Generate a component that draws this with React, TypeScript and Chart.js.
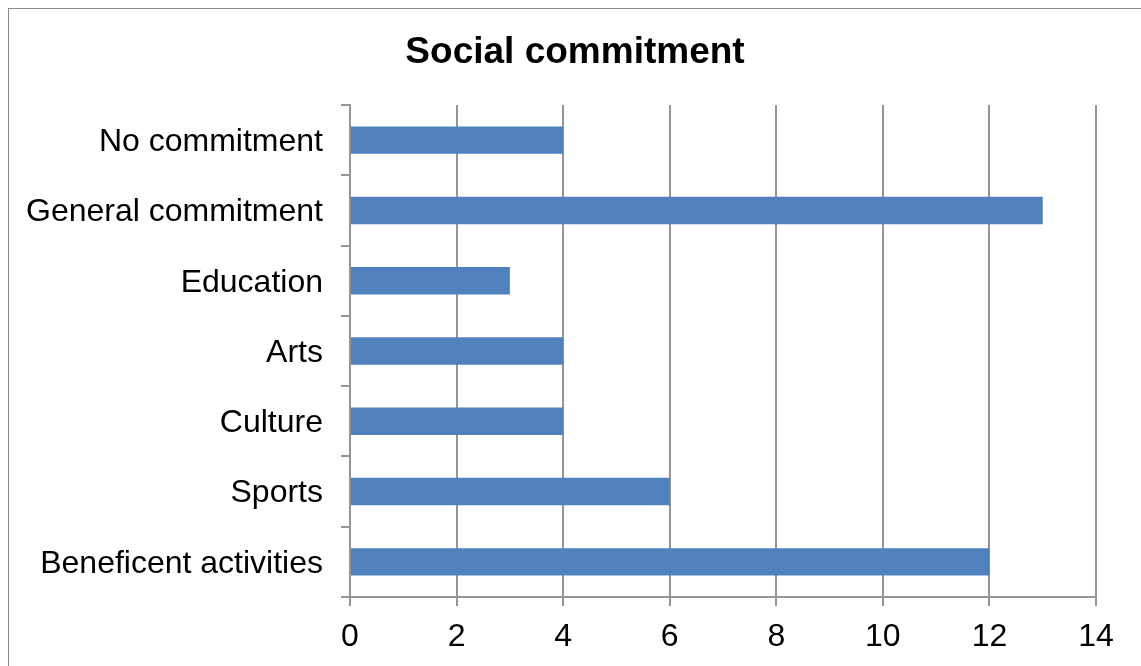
import React, { useEffect, useRef } from "react";
import { Chart, registerables } from "chart.js";

Chart.register(...registerables);

const categories: string[] = [
  "No commitment",
  "General commitment",
  "Education",
  "Arts",
  "Culture",
  "Sports",
  "Beneficent activities",
];

const counts: number[] = [4, 13, 3, 4, 4, 6, 12];

const xMin = 0;
const xMax = 14;
const xStep = 2;

const FONT = "'Liberation Sans', Arial, Helvetica, sans-serif";
const AXIS_GRAY = "#959595";
const BAR_BLUE = "#4F81BD";

// Center the title across the whole canvas rather than the padded layout box.
const fullWidthTitle = {
  id: "fullWidthTitle",
  afterLayout(chart: any) {
    const block = chart.titleBlock;
    if (block) {
      block.left = 0;
      block.right = chart.width;
      block.width = chart.width;
    }
  },
};

export default function App() {
  const canvasRef = useRef<HTMLCanvasElement | null>(null);

  useEffect(() => {
    const canvas = canvasRef.current;
    if (!canvas) return;

    const chart = new Chart(canvas, {
      type: "bar",
      data: {
        labels: categories,
        datasets: [
          {
            label: "Social commitment",
            data: counts,
            backgroundColor: BAR_BLUE,
            borderWidth: 0,
            barPercentage: 0.39,
            categoryPercentage: 1.0,
          },
        ],
      },
      plugins: [fullWidthTitle],
      options: {
        indexAxis: "y",
        responsive: false,
        animation: false,
        devicePixelRatio: 1,
        layout: { padding: { top: 0, right: 45, bottom: 0, left: 0 } },
        plugins: {
          legend: { display: false },
          tooltip: { enabled: false },
          title: {
            display: true,
            text: "Social commitment",
            color: "#000",
            font: { family: FONT, size: 37, weight: "bold" },
            padding: { top: 22, bottom: 29.6 },
          },
        },
        scales: {
          x: {
            type: "linear",
            min: xMin,
            max: xMax,
            ticks: {
              stepSize: xStep,
              color: "#000",
              font: { family: FONT, size: 32 },
              padding: 12,
            },
            grid: {
              color: AXIS_GRAY,
              lineWidth: 2,
              drawTicks: true,
              tickLength: 9,
            },
            border: { display: true, color: AXIS_GRAY, width: 2 },
            afterFit: (scale: any) => {
              scale.height = 69;
            },
          },
          y: {
            type: "category",
            ticks: {
              color: "#000",
              font: { family: FONT, size: 32 },
              padding: 18,
              labelOffset: 2,
            },
            grid: {
              offset: true,
              drawOnChartArea: false,
              drawTicks: true,
              tickLength: 9,
              color: AXIS_GRAY,
              lineWidth: 2,
            },
            border: { display: true, color: AXIS_GRAY, width: 2, z: 1 },
            afterFit: (scale: any) => {
              scale.width = 341;
            },
          },
        },
      },
    });

    return () => {
      chart.destroy();
    };
  }, []);

  return (
    <div
      style={{
        position: "fixed",
        left: 8,
        top: 8,
        width: 1132,
        height: 657,
        borderLeft: "1px solid #888",
        borderTop: "1px solid #888",
        background: "#fff",
      }}
    >
      <canvas
        ref={canvasRef}
        width={1132}
        height={657}
        style={{ display: "block", width: 1132, height: 657 }}
      />
    </div>
  );
}
